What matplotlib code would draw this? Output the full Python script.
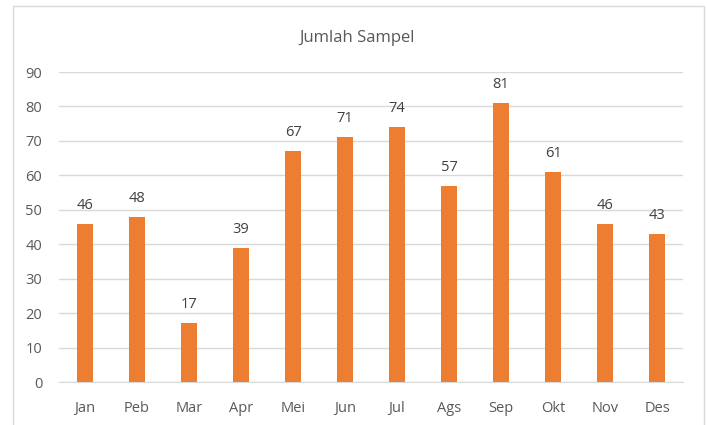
import matplotlib.pyplot as plt
from matplotlib.patches import Rectangle

months = ["Jan", "Peb", "Mar", "Apr", "Mei", "Jun", "Jul", "Ags", "Sep",
          "Okt", "Nov", "Des"]
samples = [46, 48, 17, 39, 67, 71, 74, 57, 81, 61, 46, 43]
yticks = [0, 10, 20, 30, 40, 50, 60, 70, 80, 90]

TEXT = "#595959"
plt.rcParams["font.family"] = ["Open Sans", "DejaVu Sans"]

fig = plt.figure(figsize=(7.07, 4.25), dpi=100)
# light frame round the chart area
fig.patches.append(Rectangle((13 / 707, -0.01), 691 / 707, 1 - 6 / 425 + 0.01,
                             transform=fig.transFigure, fill=False,
                             edgecolor="#D9D9D9", linewidth=1))

ax = fig.add_axes([59 / 707, 43 / 425, 624 / 707, 310 / 425])
x = range(len(months))
bars = ax.bar(x, samples, width=0.31, color="#ED7D31", zorder=3)
for xi, v in zip(x, samples):
    ax.text(xi, v + 3.2, str(v), ha="center", va="bottom", fontsize=10.5,
            color="#404040")

ax.set_xlim(-0.5, len(months) - 0.5)
ax.set_ylim(0, 90)
ax.set_yticks(yticks)
ax.set_xticks(list(x))
ax.set_xticklabels(months)
ax.grid(axis="y", color="#D9D9D9", linewidth=1, zorder=0)
ax.tick_params(length=0, labelsize=10.5, colors=TEXT)
ax.tick_params(axis="y", pad=12)
ax.tick_params(axis="x", pad=14)
for s in ["top", "right", "left"]:
    ax.spines[s].set_visible(False)
ax.spines["bottom"].set_color("#D9D9D9")

fig.text(357 / 707, 1 - 38 / 425, "Jumlah Sampel", ha="center", va="center",
         fontsize=12, color=TEXT)

fig.savefig("out.png", dpi=100)
